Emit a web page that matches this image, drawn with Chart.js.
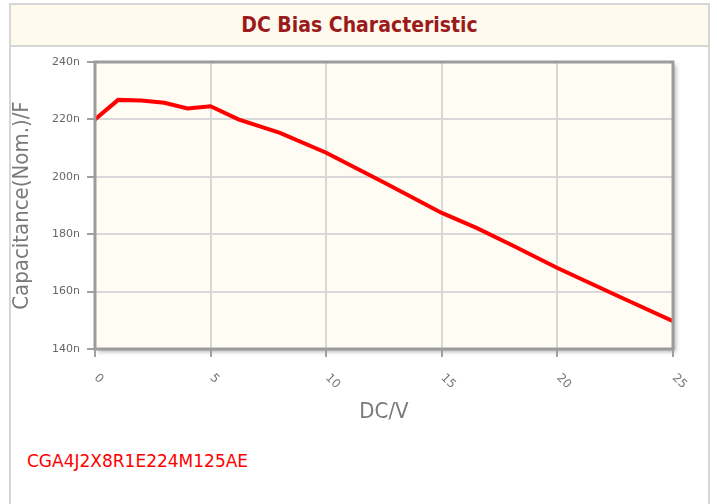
<!DOCTYPE html>
<html>
<head>
<meta charset="utf-8">
<script src="https://cdn.jsdelivr.net/npm/chart.js@4/dist/chart.umd.min.js"></script>
<style>
  html, body { margin: 0; padding: 0; background: #ffffff; }
  #wrap { position: relative; width: 717px; height: 504px; overflow: hidden; background: #fff; }
  #frame { position: absolute; left: 9px; top: 3px; width: 701px; height: 540px; box-sizing: border-box;
           border: 2px solid #d6d6d6; }
  #band { position: absolute; left: 11px; top: 5px; width: 697px; height: 40px; background: #fefaee;
          border-bottom: 2px solid #d6d6d6; display: flex; align-items: center; justify-content: center;
          font-family: "DejaVu Sans Condensed", "DejaVu Sans", sans-serif; font-weight: bold; font-size: 21px;
          color: #9b1b1b; }
  #part { position: absolute; left: 27px; top: 453px; font-family: "DejaVu Sans", sans-serif; font-size: 17px;
          line-height: 17px; color: #ff0000; white-space: nowrap; }
  #c { position: absolute; left: 0; top: 0; }
</style>
</head>
<body>
<div id="wrap">
  <div id="frame"></div>
  <div id="band">DC Bias Characteristic</div>
  <div id="part">CGA4J2X8R1E224M125AE</div>
  <canvas id="c" width="717" height="504" style="width:717px;height:504px"></canvas>
</div>
<script>
// DC bias voltage (V)
const dcVoltage = [0, 1, 2, 3, 4, 5, 6.2, 8, 10, 12.5, 15, 16.5, 18, 20, 22.5, 25];
// Nominal capacitance (nF)
const capacitance = [220, 226.8, 226.6, 225.8, 223.8, 224.6, 220, 215.3, 208.4, 198, 187.4, 182.2, 176.3, 168.2, 158.9, 149.7];
// Axis tick labels
const xTickValues = [0, 5, 10, 15, 20, 25];
const yTickValues = [140, 160, 180, 200, 220, 240];
const yTickSuffix = 'n';

const points = dcVoltage.map((v, i) => ({ x: v, y: capacitance[i] }));

const plotFrame = {
  id: 'plotFrame',
  beforeDraw(chart) {
    const { ctx, chartArea: a } = chart;
    ctx.save();
    ctx.shadowColor = 'rgba(0,0,0,0.28)';
    ctx.shadowBlur = 4;
    ctx.shadowOffsetX = 3;
    ctx.shadowOffsetY = 3;
    ctx.fillStyle = '#fffcf4';
    ctx.fillRect(a.left, a.top, a.right - a.left, a.bottom - a.top);
    ctx.restore();
  },
  afterDraw(chart) {
    const { ctx, chartArea: a } = chart;
    ctx.save();
    ctx.strokeStyle = '#9c9c9c';
    ctx.lineWidth = 3;
    ctx.strokeRect(a.left, a.top, a.right - a.left, a.bottom - a.top);
    // rotated x tick labels
    const xs = chart.scales.x;
    ctx.fillStyle = '#777777';
    ctx.font = '12px "DejaVu Sans", sans-serif';
    ctx.textAlign = 'left';
    ctx.textBaseline = 'middle';
    xTickValues.forEach(v => {
      const px = xs.getPixelForValue(v);
      ctx.save();
      ctx.translate(px + 1, a.bottom + 27);
      ctx.rotate(Math.PI / 4);
      ctx.fillText(String(v), 0, 0);
      ctx.restore();
    });
    ctx.restore();
  }
};

new Chart(document.getElementById('c'), {
  type: 'line',
  data: {
    datasets: [{
      data: points,
      borderColor: '#ff0000',
      borderWidth: 4,
      pointRadius: 0,
      tension: 0,
      fill: false
    }]
  },
  options: {
    responsive: false,
    animation: false,
    devicePixelRatio: 1,
    layout: { padding: { left: 0, top: 62, right: 44, bottom: 75 } },
    plugins: { legend: { display: false }, tooltip: { enabled: false }, title: { display: false } },
    scales: {
      x: {
        type: 'linear',
        min: 0, max: 25,
        afterBuildTicks(scale) { scale.ticks = xTickValues.map(v => ({ value: v })); },
        afterFit(scale) { scale.height = 80; },
        ticks: { display: false },
        grid: { color: '#d8d8d8', lineWidth: 2, tickLength: 8, tickColor: '#a0a0a0', tickWidth: 2 },
        border: { display: false },
        title: {
          display: true, text: 'DC/V', color: '#7a7a7a',
          font: { family: '"DejaVu Sans Condensed", "DejaVu Sans", sans-serif', size: 22, lineHeight: 1.2 },
          padding: { top: 0, bottom: 4 }
        }
      },
      y: {
        type: 'linear',
        min: 140, max: 240,
        afterBuildTicks(scale) { scale.ticks = yTickValues.map(v => ({ value: v })); },
        afterFit(scale) { scale.width = 95; },
        ticks: {
          color: '#666666', padding: 7,
          font: { family: '"DejaVu Sans", sans-serif', size: 11 },
          callback: v => v + yTickSuffix
        },
        grid: { color: '#d8d8d8', lineWidth: 2, tickLength: 8, tickColor: '#a0a0a0', tickWidth: 2 },
        border: { display: false },
        title: {
          display: true, text: 'Capacitance(Nom.)/F', color: '#7a7a7a',
          font: { family: '"DejaVu Sans Condensed", "DejaVu Sans", sans-serif', size: 22, lineHeight: 1.2 },
          padding: { top: 9, bottom: 0 }
        }
      }
    }
  },
  plugins: [plotFrame]
});
</script>
</body>
</html>
